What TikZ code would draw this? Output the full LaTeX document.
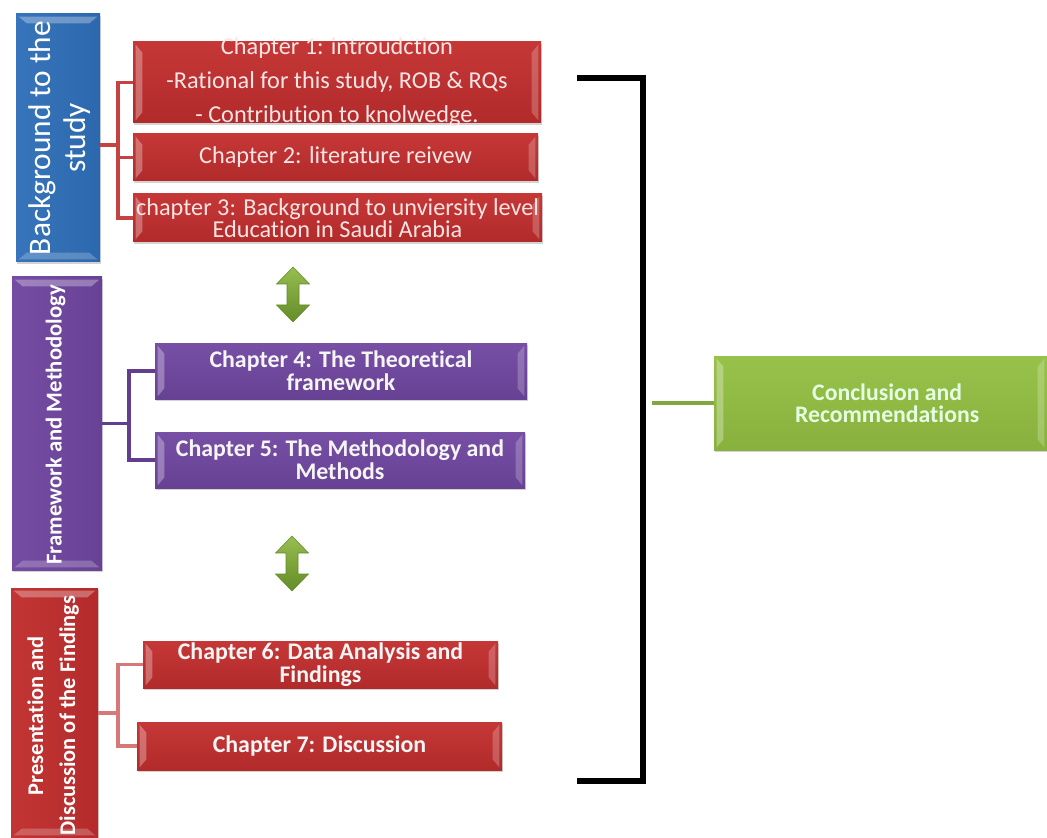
\documentclass[tikz,border=0pt]{standalone}
\usepackage{fontspec}
\setmainfont{Carlito}[RawFeature={-liga;-clig;-calt;-dlig;-rlig}]
\usetikzlibrary{fit,shadows}

\definecolor{redA}{RGB}{226,110,106}
\definecolor{redB}{RGB}{196,44,44}
\definecolor{redC}{RGB}{130,20,20}
\definecolor{prA}{RGB}{170,135,215}
\definecolor{prB}{RGB}{112,70,162}
\definecolor{prC}{RGB}{70,40,112}
\definecolor{blA}{RGB}{110,172,230}
\definecolor{blB}{RGB}{46,112,188}
\definecolor{blC}{RGB}{26,70,138}
\definecolor{gnA}{RGB}{190,225,115}
\definecolor{gnB}{RGB}{146,192,64}
\definecolor{gnC}{RGB}{95,135,35}
\definecolor{arA}{RGB}{150,190,80}
\definecolor{arC}{RGB}{100,140,40}
\definecolor{lnRed}{RGB}{196,66,66}
\definecolor{lnPink}{RGB}{214,120,120}
\definecolor{lnPur}{RGB}{100,62,142}
\definecolor{lnGrn}{RGB}{128,168,62}
\definecolor{txtLight}{RGB}{250,228,228}

% bevelled fills: light rim on one long edge, dark rim on the other
\pgfdeclareverticalshading{redsh}{100bp}{color(0bp)=(redC); color(12bp)=(redB!88!black); color(80bp)=(redB!94!white); color(93bp)=(redA); color(100bp)=(redA)}
\pgfdeclareverticalshading{prsh}{100bp}{color(0bp)=(prC); color(12bp)=(prB!88!black); color(80bp)=(prB!94!white); color(93bp)=(prA); color(100bp)=(prA)}
\pgfdeclareverticalshading{gnsh}{100bp}{color(0bp)=(gnC); color(12bp)=(gnB!90!black); color(80bp)=(gnB!94!white); color(93bp)=(gnA); color(100bp)=(gnA)}
\pgfdeclarehorizontalshading{blsideh}{100bp}{color(0bp)=(blA); color(8bp)=(blB!94!white); color(88bp)=(blB!90!black); color(100bp)=(blC)}
\pgfdeclarehorizontalshading{prsideh}{100bp}{color(0bp)=(prA); color(8bp)=(prB!94!white); color(88bp)=(prB!90!black); color(100bp)=(prC)}
\pgfdeclarehorizontalshading{rdsideh}{100bp}{color(0bp)=(redA); color(8bp)=(redB!94!white); color(88bp)=(redB!90!black); color(100bp)=(redC)}

\tikzset{
  x=0.75pt, y=-0.75pt,
  boxbase/.style={inner sep=0pt,
    drop shadow={opacity=0.35, shadow xshift=1pt, shadow yshift=-1.5pt}},
  % light bevels on the short (left/right) edges
  bevelh/.style={path picture={
    \fill[white, opacity=0.30]
      ([xshift=2pt,yshift=-2pt]path picture bounding box.north west) -- ++(5pt,-6pt)
      -- ([xshift=7pt,yshift=8pt]path picture bounding box.south west)
      -- ([xshift=2pt,yshift=2pt]path picture bounding box.south west) -- cycle;
    \fill[white, opacity=0.22]
      ([xshift=-2pt,yshift=-2pt]path picture bounding box.north east) -- ++(-5pt,-6pt)
      -- ([xshift=-7pt,yshift=8pt]path picture bounding box.south east)
      -- ([xshift=-2pt,yshift=2pt]path picture bounding box.south east) -- cycle;
  }},
  % light bevels on the short (top/bottom) edges of the upright boxes
  bevelv/.style={path picture={
    \fill[white, opacity=0.30]
      ([xshift=2pt,yshift=-2pt]path picture bounding box.north west) -- ++(6pt,-5pt)
      -- ([xshift=-8pt,yshift=-7pt]path picture bounding box.north east)
      -- ([xshift=-2pt,yshift=-2pt]path picture bounding box.north east) -- cycle;
    \fill[white, opacity=0.22]
      ([xshift=2pt,yshift=2pt]path picture bounding box.south west) -- ++(6pt,5pt)
      -- ([xshift=-8pt,yshift=7pt]path picture bounding box.south east)
      -- ([xshift=-2pt,yshift=2pt]path picture bounding box.south east) -- cycle;
  }},
  redbox/.style={boxbase, bevelh, shading=redsh},
  purbox/.style={boxbase, bevelh, shading=prsh},
  grnbox/.style={boxbase, bevelh, shading=gnsh},
  bluside/.style={boxbase, bevelv, shading=blsideh},
  purside/.style={boxbase, bevelv, shading=prsideh},
  redside/.style={boxbase, bevelv, shading=rdsideh},
  sidetext/.style={rotate=90, align=center, text=white, inner sep=0pt},
  boxtext/.style={align=center, inner sep=0pt},
  chreg/.style={boxtext, text=txtLight, font=\fontsize{18.2}{16.5}\selectfont},
  chbold/.style={boxtext, text=white!96!black, font=\bfseries\fontsize{17.9}{17}\selectfont},
  conn/.style={line width=2.3pt},
  twoway/.style={draw=arC, line width=0.4pt, top color=arA, bottom color=arC},
}

\begin{document}
\begin{tikzpicture}
\useasboundingbox (0,0) rectangle (1047,838);

% ---- side group boxes ----
\node[bluside, fit={(16,14) (100,262)}] (bg) {};
\node[sidetext, font=\fontsize{23.5}{26}\selectfont] at ([xshift=1pt]bg.center) {Background to the\\study};

\node[purside, fit={(12,277) (102,570)}] (fm) {};
\node[sidetext, font=\bfseries\fontsize{17}{20}\selectfont] at ([xshift=-1pt,yshift=-1pt]fm.center) {Framework and Methodology};

\node[redside, fit={(11,588) (98,838)}] (pd) {};
\node[sidetext, font=\bfseries\fontsize{16.8}{24}\selectfont] at ([xshift=-1pt,yshift=-2pt]pd.center) {Presentation and\\Discussion of the Findings};

% ---- chapter boxes ----
\node[redbox, fit={(133,42) (541,123)}] (c1) {};
\node[chreg, font=\fontsize{18.2}{25.5}\selectfont] at (c1.center)
  {Chapter 1: introudction\\-Rational for this study, ROB \& RQs\\- Contribution to knolwedge.};
\node[redbox, fit={(133,134) (538,181)}] (c2) {};
\node[chreg] at (c2.center) {Chapter 2: literature reivew};
\node[redbox, fit={(133,194) (542,242)}] (c3) {};
\node[chreg] at (c3.center) {chapter 3: Background to unviersity level\\Education in Saudi Arabia};

\node[purbox, fit={(155,343) (527,399)}] (c4) {};
\node[chbold] at (c4.center) {Chapter 4: The Theoretical\\framework};
\node[purbox, fit={(155,432) (525,488)}] (c5) {};
\node[chbold] at (c5.center) {Chapter 5: The Methodology and\\Methods};

\node[redbox, fit={(143,641) (498,688)}] (c6) {};
\node[chbold] at (c6.center) {Chapter 6: Data Analysis and\\Findings};
\node[redbox, fit={(137,722) (502,770)}] (c7) {};
\node[chbold] at (c7.center) {Chapter 7: Discussion};

\node[grnbox, fit={(714,356) (1047,450)}] (cr) {};
\node[boxtext, font=\bfseries\fontsize{17.8}{16.5}\selectfont, text=white!90!green] at ([xshift=5pt]cr.center)
  {Conclusion and\\Recommendations};

% ---- tree connectors ----
\coordinate (t1) at (118,0);
\coordinate (j1) at (0,145);
\draw[conn, lnRed] (c1.west) -- (c1.west -| t1) -- (c3.west -| t1) -- (c3.west);
\draw[conn, lnRed] (c2.west) -- (c2.west -| t1);
\draw[conn, lnRed] (bg.east |- j1) -- (t1 |- j1);

\coordinate (t2) at (129,0);
\draw[conn, lnPur] (c4.west) -- (c4.west -| t2) -- (c5.west -| t2) -- (c5.west);
\draw[conn, lnPur] (fm.east) -- (fm.east -| t2);

\coordinate (t3) at (118,0);
\draw[conn, lnPink] (c6.west) -- (c6.west -| t3) -- (c7.west -| t3) -- (c7.west);
\draw[conn, lnPink] (pd.east) -- (pd.east -| t3);

% ---- two-way arrows between the groups ----
\foreach \cx/\ty in {293/267, 292/536}{
  \path[twoway] (\cx,\ty) -- ++(16.5,17) -- ++(-10.5,0) -- ++(0,21) -- ++(10.5,0)
    -- ++(-16.5,17) -- ++(-16.5,-17) -- ++(10.5,0) -- ++(0,-21) -- ++(-10.5,0) -- cycle;
}

% ---- bracket gathering all chapters ----
\coordinate (bt) at (577,78);
\coordinate (bb) at (577,781);
\coordinate (bx) at (643,0);
\draw[line width=3.8pt, black] (bt) -- (bt -| bx) -- (bb -| bx) -- (bb);
\coordinate (bm) at (652,403);
\draw[conn, lnGrn] (bm) -- (bm -| cr.west);

\end{tikzpicture}
\end{document}
